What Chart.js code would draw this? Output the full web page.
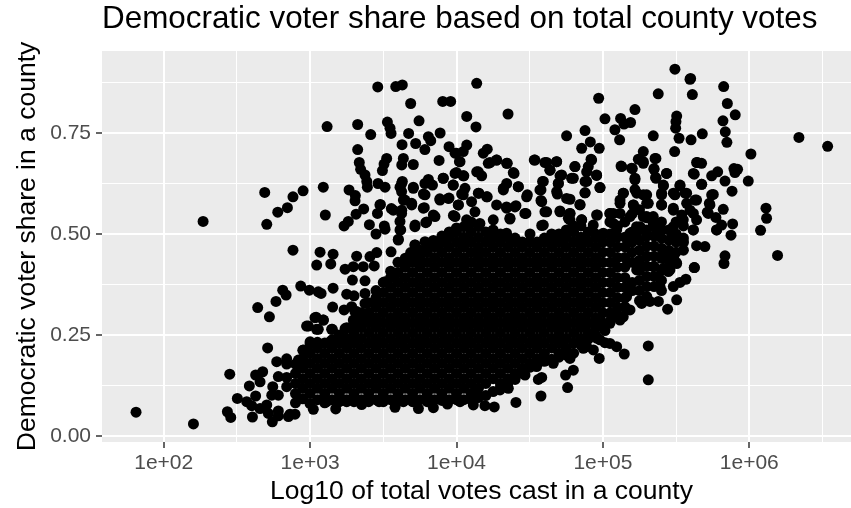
<!DOCTYPE html>
<html>
<head>
<meta charset="utf-8">
<script src="https://cdn.jsdelivr.net/npm/chart.js@4"></script>
<style>
  html, body { margin: 0; padding: 0; background: #fff; overflow: hidden; width: 851px; height: 508px; }
  canvas { display: block; }
</style>
</head>
<body>
<!-- the panel in the picture runs past the right edge, so the canvas is a little wider than the window -->
<canvas id="voteChart" width="861" height="508"></canvas>
<script>
// Democratic share vs log10 of total votes

const xTicks = [2, 2.5, 3, 3.5, 4, 4.5, 5, 5.5, 6, 6.5];
const yTicks = [0, 0.125, 0.25, 0.375, 0.5, 0.625, 0.75, 0.875];

// each point: [log10 votes, democratic share]
const upperLeft = [
  [2.269,.531],[2.69,.603],[2.952,.607],[2.883,.592],[2.845,.565],[2.779,.554],[2.704,.524],[3.09,.616],
  [3.104,.547],[3.116,.766],[3.325,.771],[3.414,.746],[3.462,.864],[3.585,.865],[3.63,.869],[3.687,.823],
  [3.906,.828],[3.96,.828],[4.07,.791],[3.744,.78],[3.528,.777],[3.546,.762],[3.553,.749],[3.673,.749],
  [3.888,.75],[3.808,.741],[3.824,.731],[3.721,.724],[3.628,.721],[3.784,.709],[3.325,.709],[3.949,.716],
  [4.07,.72],[4.0,.7],[4.02,.679],[3.881,.682],[3.705,.672],[3.637,.687],[3.626,.671],[3.523,.687],
  [3.505,.673],[3.494,.657],[3.336,.677],[3.345,.66],[3.375,.646],[3.387,.63],[3.391,.616],[3.464,.625],
  [3.512,.616],[3.266,.609],[3.309,.595],[3.307,.582],[3.366,.562],[3.314,.549],[3.261,.531],[3.232,.52],
  [3.405,.523],[3.46,.551],[3.48,.573],[3.507,.52],[3.512,.512],[3.45,.5],[3.555,.563],[3.626,.559],
  [3.614,.531],[3.619,.51],[3.603,.487],[3.63,.63],[3.614,.616],[3.705,.616],[3.637,.584],[3.694,.576],
  [3.774,.599],[3.808,.635],[3.784,.625],[3.836,.621],[3.909,.638],[3.977,.621],[4.0,.652],[4.05,.644],
  [4.035,.599],[3.886,.587],[3.949,.589],[4.013,.572],[3.78,.565],[3.842,.547],[3.979,.546],[3.717,.522],
  [3.79,.528],[3.717,.473],[3.785,.481],[3.842,.484],[2.883,.46],[3.068,.455],[3.157,.45],[3.318,.445],
  [3.455,.454],[3.409,.444],[3.553,.456],[3.687,.454]
];

const upperRight = [
  [4.138,.873],[4.352,.797],[4.133,.765],[4.971,.836],[5.378,.847],[5.492,.908],[5.595,.883],[5.599,.885],
  [5.611,.845],[5.825,.865],[5.85,.823],[5.904,.795],[5.82,.78],[5.836,.753],[5.847,.727],[5.219,.808],
  [5.014,.785],[5.121,.786],[5.189,.776],[5.144,.772],[5.082,.758],[5.114,.733],[5.504,.792],[5.499,.778],
  [5.497,.762],[5.52,.737],[5.602,.733],[5.679,.748],[5.344,.743],[5.49,.704],[6.339,.739],[6.535,.717],
  [6.011,.698],[4.752,.743],[4.878,.756],[4.914,.728],[4.855,.712],[4.975,.712],[4.919,.685],[4.531,.683],
  [4.604,.677],[4.684,.679],[4.638,.658],[4.707,.644],[4.809,.667],[4.786,.638],[4.9,.667],[4.957,.645],
  [4.889,.63],[4.98,.615],[4.878,.602],[4.588,.63],[4.577,.609],[4.695,.625],[4.689,.599],[4.752,.588],
  [4.843,.573],[4.577,.583],[4.616,.555],[4.707,.555],[4.775,.551],[4.582,.521],[4.484,.597],[4.422,.617],
  [4.388,.652],[4.347,.675],[4.274,.683],[4.21,.71],[4.183,.7],[4.229,.677],[4.138,.654],[4.172,.644],
  [4.32,.609],[4.153,.601],[4.21,.592],[4.342,.564],[4.406,.57],[4.474,.551],[4.365,.537],[5.128,.667],
  [5.201,.662],[5.219,.638],[5.276,.704],[5.242,.685],[5.276,.675],[5.362,.687],[5.349,.66],[5.36,.64],
  [5.435,.65],[4.957,.547],[5.048,.551],[5.413,.619],[5.526,.619],[5.645,.677],[5.674,.675],[5.624,.648],
  [5.674,.623],[5.743,.644],[5.784,.654],[5.834,.631],[5.895,.662],[5.92,.66],[5.902,.652],[5.993,.631],
  [5.882,.606],[5.754,.598],[5.727,.576],[5.713,.554],[5.822,.561],[5.772,.541],[6.114,.564],[6.118,.539],
  [6.077,.509],[6.193,.447],[5.886,.525],[5.811,.522],[5.777,.51],[5.875,.497],[5.834,.446],[5.697,.469],
  [5.64,.471],[5.549,.479],[5.485,.446],[5.617,.51],[5.64,.535],[5.595,.559],[5.64,.584],[5.572,.601],
  [5.481,.601],[5.401,.601],[5.401,.572],[5.481,.564],[5.276,.597],[5.219,.61],[5.139,.601],[5.117,.584],
  [5.208,.572],[5.299,.576],[5.071,.551],[5.276,.543],[5.344,.543],[5.23,.518],[5.071,.526],[5.481,.518],
  [5.549,.535],[5.39,.518],[5.299,.51],[5.219,.5],[5.094,.51],[5.003,.502],[4.934,.522],[4.855,.535],
  [4.775,.535],[4.502,.5],[4.342,.502]
];

// loose points just above the dense cloud
const midScatter = [
  [3.625,.625],[3.705,.613],[3.625,.605],[3.785,.597],[3.648,.584],[3.694,.572],[3.773,.564],[3.568,.559],
  [3.477,.572],[3.625,.551],[3.853,.543],[3.887,.584],[3.944,.588],[4.012,.572],[3.99,.543],[3.978,.621],
  [4.058,.613],[4.046,.597],[4.103,.58],[4.149,.601],[4.206,.592],[4.274,.572],[4.126,.555],[4.251,.535],
  [4.16,.526],[4.069,.535],[4.32,.613],[4.343,.625],[4.422,.617],[4.393,.65],[4.342,.567],[4.399,.567],
  [4.365,.539],[4.467,.551],[4.479,.592],[4.217,.675],[4.274,.683],[4.342,.675],[4.149,.654],[3.99,.65],
  [4.046,.644],[3.91,.638],[4.024,.679],[3.99,.7],[4.046,.704],[3.716,.518],[3.796,.53],[3.614,.51],
  [3.602,.485],[3.716,.473],[3.796,.477],[3.887,.477],[3.978,.506],[4.046,.469],[4.149,.46],
  [4.536,.683],[4.616,.677],[4.684,.679],[4.639,.658],[4.718,.646],[4.593,.63],[4.57,.609],[4.696,.625],
  [4.684,.605],[4.775,.586],[4.844,.572],[4.582,.58],[4.604,.555],[4.707,.557],[4.775,.551],[4.764,.539],
  [4.593,.522],[4.855,.535],[4.962,.547],[4.798,.638],[4.878,.63],[4.878,.602],[4.98,.615],[4.809,.667],
  [4.923,.683],[4.889,.654],[4.957,.646],[5.124,.668],[5.196,.663],[5.219,.634],[5.276,.679],[5.356,.687],
  [5.349,.662],[5.363,.638],[5.435,.65],[5.14,.601],[5.117,.576],[5.231,.601],[5.299,.597],[5.31,.576],
  [5.208,.572],[5.413,.621],[5.401,.597],[5.401,.572],[5.481,.559],[5.527,.621],[5.561,.601],[5.492,.597],
  [5.629,.584],[5.572,.576],[5.618,.551],[5.538,.547],[5.618,.51],[5.549,.481],[5.481,.502],[5.048,.551],
  [5.117,.551],[5.048,.53],[5.299,.543],[5.185,.543],[5.254,.518],[5.344,.526],[5.185,.502],[5.39,.51],
  [5.743,.597],[5.731,.572],[5.72,.551],[5.64,.677],[5.618,.65],[5.675,.623],[5.777,.51]
];

const lowerLeft = [
  [1.811,.059],[2.203,.03],[2.435,.06],[2.458,.046],[2.606,.047],[2.742,.035],[2.503,.093],[2.585,.124],
  [2.451,.153],[2.628,.151],[2.676,.159],[2.658,.134],[2.628,.099],[2.567,.085],[2.601,.075],[2.658,.068],
  [2.704,.077],[2.715,.056],[2.783,.062],[2.783,.05],[2.863,.054],[2.897,.054],[2.852,.048],[2.745,.122],
  [2.783,.147],[2.84,.145],[2.738,.101],[2.783,.101],[2.84,.122],[2.71,.218],[2.772,.184],[2.84,.191],
  [2.84,.178],[2.642,.318],[2.722,.295],[2.767,.333],[2.813,.361],[2.836,.349],[2.936,.371],[2.995,.361],
  [3.056,.357],[3.075,.353],[3.157,.366],[3.045,.423],[3.141,.426],[3.239,.413],[3.295,.419],[3.363,.419],
  [3.438,.421],[3.289,.386],[3.375,.384],[3.25,.351],[3.3,.347],[3.375,.353],[3.154,.319],[3.232,.312],
  [3.284,.32],[3.318,.308],[3.041,.294],[3.091,.287],[2.988,.272],[3.056,.264],[3.152,.264],[3.0,.233],
  [3.239,.266],[3.136,.233],[3.227,.238],[2.954,.213],[2.92,.188],[3.022,.066],[3.175,.067],[3.352,.078],
  [3.471,.085],[3.58,.071],[3.74,.068],[3.842,.07],[3.938,.079],[4.024,.085],[3.113,.085],[3.25,.085],
  [3.637,.085],[3.58,.398],[3.511,.382],[3.375,.328],[3.306,.308],[3.295,.287],[3.397,.295],[3.147,.264],
  [3.044,.264],[2.976,.272],[3.033,.293],[3.09,.287]
];

const lowerRight = [
  [4.115,.077],[4.194,.075],[4.258,.072],[4.406,.083],[4.577,.099],[4.559,.14],[4.582,.145],[4.759,.12],
  [4.745,.151],[4.798,.163],[5.31,.139],[5.31,.223],[5.146,.203],[4.975,.192],[5.094,.221],[5.014,.231],
  [5.014,.261],[5.139,.295],[5.162,.312],[5.442,.314],[5.504,.337],[5.379,.333],[5.265,.328],[5.321,.333],
  [5.481,.37],[5.526,.38],[5.567,.388],[5.624,.417],[5.447,.407],[5.39,.37],[5.827,.427],[5.504,.427],
  [4.297,.114],[4.354,.118],[4.138,.114],[4.468,.151],[4.547,.172],[4.661,.18],[4.775,.192],[4.889,.221],
  [4.957,.242],[5.048,.279],[5.117,.287],[5.162,.345],[5.185,.312],[5.379,.394],[5.458,.411],[5.413,.415],
  [5.344,.419],[5.231,.411],[5.481,.44],[5.413,.452],[5.299,.444],[5.253,.419],[5.625,.417],[5.048,.229],
  [4.98,.238],[4.935,.213],[4.866,.217]
];

// dense middle of the cloud: first number is log10 votes, the rest are shares in that column
const coreColumns = [
  [2.9,.082,.105,.13,.155,.178],
  [2.95,.092,.118,.142,.168,.19,.212],
  [3.0,.08,.105,.13,.155,.18,.205,.228],
  [3.05,.09,.118,.142,.168,.192,.218,.232],
  [3.1,.082,.105,.13,.155,.18,.205,.23],
  [3.15,.09,.118,.142,.168,.192,.218,.238],
  [3.2,.085,.105,.13,.155,.18,.205,.23,.25],
  [3.25,.09,.118,.142,.168,.192,.218,.242,.268],
  [3.3,.085,.105,.13,.155,.18,.205,.23,.255,.28],
  [3.35,.09,.118,.142,.168,.192,.218,.242,.268,.292,.305],
  [3.4,.085,.105,.13,.155,.18,.205,.23,.255,.28,.305,.33],
  [3.45,.09,.118,.142,.168,.192,.218,.242,.268,.292,.318,.342,.36],
  [3.5,.085,.105,.13,.155,.18,.205,.23,.255,.28,.305,.33,.355,.38],
  [3.55,.09,.118,.142,.168,.192,.218,.242,.268,.292,.318,.342,.368,.392,.408],
  [3.6,.085,.105,.13,.155,.18,.205,.23,.255,.28,.305,.33,.355,.38,.405,.43],
  [3.65,.09,.118,.142,.168,.192,.218,.242,.268,.292,.318,.342,.368,.392,.418,.44],
  [3.7,.085,.105,.13,.155,.18,.205,.23,.255,.28,.305,.33,.355,.38,.405,.43,.45],
  [3.75,.09,.118,.142,.168,.192,.218,.242,.268,.292,.318,.342,.368,.392,.418,.442,.46],
  [3.8,.085,.105,.13,.155,.18,.205,.23,.255,.28,.305,.33,.355,.38,.405,.43,.455,.47],
  [3.85,.09,.118,.142,.168,.192,.218,.242,.268,.292,.318,.342,.368,.392,.418,.442,.468,.48],
  [3.9,.088,.105,.13,.155,.18,.205,.23,.255,.28,.305,.33,.355,.38,.405,.43,.455,.48,.495],
  [3.95,.09,.118,.142,.168,.192,.218,.242,.268,.292,.318,.342,.368,.392,.418,.442,.468,.492,.505],
  [4.0,.09,.105,.13,.155,.18,.205,.23,.255,.28,.305,.33,.355,.38,.405,.43,.455,.48,.505,.515],
  [4.05,.09,.118,.142,.168,.192,.218,.242,.268,.292,.318,.342,.368,.392,.418,.442,.468,.492,.518],
  [4.1,.09,.105,.13,.155,.18,.205,.23,.255,.28,.305,.33,.355,.38,.405,.43,.455,.48,.505,.53],
  [4.15,.095,.118,.142,.168,.192,.218,.242,.268,.292,.318,.342,.368,.392,.418,.442,.468,.492,.518],
  [4.2,.1,.13,.155,.18,.205,.23,.255,.28,.305,.33,.355,.38,.405,.43,.455,.48,.505],
  [4.25,.11,.142,.168,.192,.218,.242,.268,.292,.318,.342,.368,.392,.418,.442,.468,.492,.51],
  [4.3,.12,.13,.155,.18,.205,.23,.255,.28,.305,.33,.355,.38,.405,.43,.455,.48,.5],
  [4.35,.13,.142,.168,.192,.218,.242,.268,.292,.318,.342,.368,.392,.418,.442,.468,.492],
  [4.4,.14,.155,.18,.205,.23,.255,.28,.305,.33,.355,.38,.405,.43,.455,.48,.49],
  [4.45,.155,.168,.192,.218,.242,.268,.292,.318,.342,.368,.392,.418,.442,.468,.48],
  [4.5,.17,.18,.205,.23,.255,.28,.305,.33,.355,.38,.405,.43,.455,.48],
  [4.55,.18,.192,.218,.242,.268,.292,.318,.342,.368,.392,.418,.442,.468,.48],
  [4.6,.185,.205,.23,.255,.28,.305,.33,.355,.38,.405,.43,.455,.48,.49],
  [4.65,.19,.218,.242,.268,.292,.318,.342,.368,.392,.418,.442,.468,.49,.5],
  [4.7,.195,.205,.23,.255,.28,.305,.33,.355,.38,.405,.43,.455,.48,.5],
  [4.75,.2,.218,.242,.268,.292,.318,.342,.368,.392,.418,.442,.468,.492,.51],
  [4.8,.205,.23,.255,.28,.305,.33,.355,.38,.405,.43,.455,.48,.505,.52],
  [4.85,.225,.242,.268,.292,.318,.342,.368,.392,.418,.442,.468,.492,.52],
  [4.9,.24,.255,.28,.305,.33,.355,.38,.405,.43,.455,.48,.505],
  [4.95,.25,.268,.292,.318,.342,.368,.392,.418,.442,.468,.492,.5],
  [5.0,.27,.28,.305,.33,.355,.38,.405,.43,.455,.48,.5],
  [5.05,.285,.305,.33,.355,.38,.405,.43,.455,.48,.5],
  [5.1,.3,.318,.342,.368,.392,.418,.442,.468,.492,.52],
  [5.15,.32,.342,.368,.392,.418,.442,.468,.492,.53],
  [5.2,.36,.38,.43,.455,.48,.505,.55],
  [5.25,.335,.36,.385,.41,.435,.46,.485,.51,.56],
  [5.3,.345,.37,.395,.42,.445,.47,.495,.54],
  [5.35,.37,.395,.42,.445,.47,.495,.52],
  [5.4,.36,.385,.41,.44,.465,.49,.51,.53],
  [5.45,.41,.435,.46,.485,.51],
  [5.5,.43,.455,.48,.5,.53],
  [5.55,.46,.49,.52]
];

const corePoints = [];
coreColumns.forEach(col => {
  col.slice(1).forEach(share => corePoints.push([col[0], share]));
});

const allPoints = upperLeft.concat(upperRight, midScatter, lowerLeft, lowerRight, corePoints)
  .map(p => ({ x: p[0], y: p[1] }));

// grey panel behind the grid
const panelBackground = {
  id: "panelBackground",
  beforeDraw(chart) {
    const a = chart.chartArea;
    chart.ctx.save();
    chart.ctx.fillStyle = "#EBEBEB";
    chart.ctx.fillRect(a.left, a.top, a.right - a.left, a.bottom - a.top);
    chart.ctx.restore();
  }
};

const isMajorX = v => Number.isInteger(v);
const isMajorY = v => Math.abs(v * 4 - Math.round(v * 4)) < 1e-6;
const fontName = "'Liberation Sans', Arial, sans-serif";

new Chart(document.getElementById("voteChart"), {
  type: "scatter",
  data: {
    datasets: [{
      data: allPoints,
      backgroundColor: "#000000",
      borderWidth: 0,
      pointRadius: 5.5,
      pointHoverRadius: 5.5
    }]
  },
  options: {
    responsive: false,
    animation: false,
    layout: { padding: 0, autoPadding: false },
    plugins: {
      legend: { display: false },
      tooltip: { enabled: false },
      title: {
        display: true,
        text: "Democratic voter share based on total county votes",
        align: "start",
        fullSize: false,
        color: "#000000",
        font: { family: fontName, size: 31.4, weight: "normal", lineHeight: 1.2 },
        padding: { top: 0.5, bottom: 12.8 }
      }
    },
    scales: {
      x: {
        type: "linear",
        min: 1.5785,
        max: 6.763,
        afterBuildTicks: s => { s.ticks = xTicks.map(v => ({ value: v })); },
        afterFit: s => { s.height = 66; s.paddingLeft = 0; s.paddingRight = 0; },
        border: { display: false },
        grid: {
          color: "#FFFFFF",
          lineWidth: c => isMajorX(c.tick.value) ? 2 : 1,
          tickColor: c => isMajorX(c.tick.value) ? "#333333" : "rgba(0,0,0,0)",
          tickWidth: 1.5,
          tickLength: 6
        },
        ticks: {
          autoSkip: false,
          maxRotation: 0,
          padding: 3,
          color: "#4D4D4D",
          font: { family: fontName, size: 21 },
          callback: v => isMajorX(v) ? "1e+0" + v : ""
        },
        title: {
          display: true,
          text: "Log10 of total votes cast in a county",
          color: "#000000",
          font: { family: fontName, size: 26.5 },
          padding: { top: 0, bottom: 0 }
        }
      },
      y: {
        type: "linear",
        min: -0.01485,
        max: 0.953,
        afterBuildTicks: s => { s.ticks = yTicks.map(v => ({ value: v })); },
        afterFit: s => { s.width = 102; s.paddingTop = 0; s.paddingBottom = 0; },
        border: { display: false },
        grid: {
          color: "#FFFFFF",
          lineWidth: c => isMajorY(c.tick.value) ? 2 : 1,
          tickColor: c => isMajorY(c.tick.value) ? "#333333" : "rgba(0,0,0,0)",
          tickWidth: 1.5,
          tickLength: 6
        },
        ticks: {
          autoSkip: false,
          padding: 5,
          color: "#4D4D4D",
          font: { family: fontName, size: 21 },
          callback: v => isMajorY(v) ? v.toFixed(2) : ""
        },
        title: {
          display: true,
          text: "Democratic voter share in a county",
          color: "#000000",
          font: { family: fontName, size: 26.5 },
          padding: { top: 12, bottom: 0 }
        }
      }
    }
  },
  plugins: [panelBackground]
});
</script>
</body>
</html>
